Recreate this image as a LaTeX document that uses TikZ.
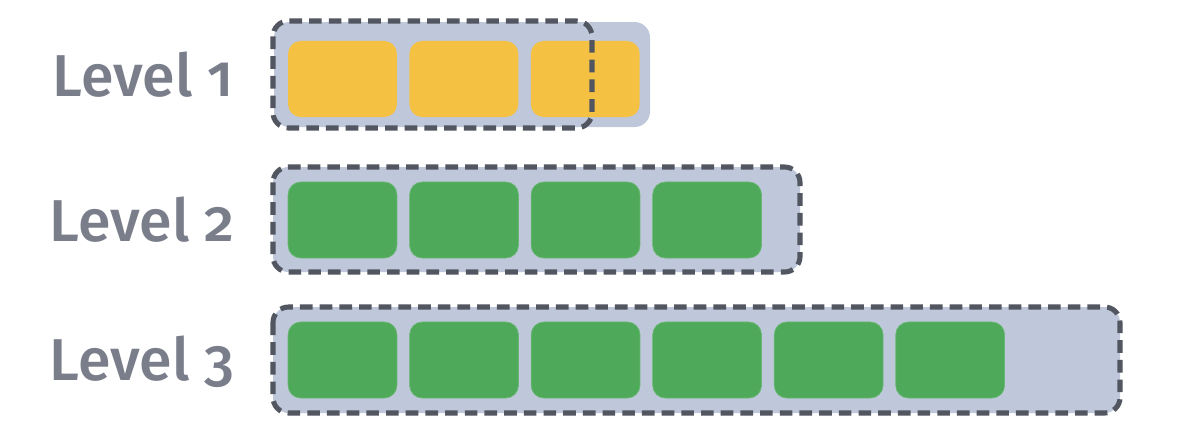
\documentclass[tikz,border=0pt]{standalone}
\usepackage{fontspec}
\setmainfont{Fira Sans}[Numbers=OldStyle, UprightFont=* Medium]
\usepackage{tikz}
\usetikzlibrary{positioning}
\usepackage{xcolor}
\definecolor{labelgray}{RGB}{122,126,139}
\definecolor{traygray}{RGB}{190,200,218}
\definecolor{framegray}{RGB}{82,86,96}
\definecolor{cellyellow}{RGB}{245,193,66}
\definecolor{cellgreen}{RGB}{78,170,90}
\tikzset{
  lvl/.style={font=\fontsize{42}{46}\selectfont, text=labelgray, inner sep=0pt},
  tray/.style={fill=traygray, rounded corners=11pt},
  frame/.style={draw=framegray, line width=3.6pt, dash pattern=on 9pt off 5pt, rounded corners=11pt},
  cell/.style={rectangle, rounded corners=9pt, minimum width=2.72cm, minimum height=1.9cm, inner sep=0pt},
  yellowcell/.style={cell, fill=cellyellow},
  greencell/.style={cell, fill=cellgreen, draw=cellgreen!85!white, line width=0.5pt},
}

\begin{document}
\begin{tikzpicture}[x=0.025cm, y=-0.025cm, node distance=0.3cm]
\useasboundingbox[fill=white] (0,0) rectangle (1192,430);
% level 1
\fill[tray] (274,22) rectangle (650,127);
\node[yellowcell] (y1) at (342.5,79) {};
\node[yellowcell, right=of y1] (y2) {};
\node[yellowcell, right=of y2] (y3) {};
\draw[frame] (273,21) rectangle (592,128);
\node[lvl] (lab1) at (143,75) {Level 1};
% level 2
\filldraw[tray, frame] (273,167) rectangle (800,272);
\node[greencell] (g1) at (342.5,220) {};
\foreach \a/\b in {g1/g2, g2/g3, g3/g4}
  \node[greencell, right=of \a] (\b) {};
\node[lvl] (lab2) at (142,220) {Level 2};
% level 3
\filldraw[tray, frame] (273,307) rectangle (1120,413);
\node[greencell] (h1) at (342.5,360) {};
\foreach \a/\b in {h1/h2, h2/h3, h3/h4, h4/h5, h5/h6}
  \node[greencell, right=of \a] (\b) {};
\node[lvl] (lab3) at (142,362) {Level 3};
\end{tikzpicture}
\end{document}
